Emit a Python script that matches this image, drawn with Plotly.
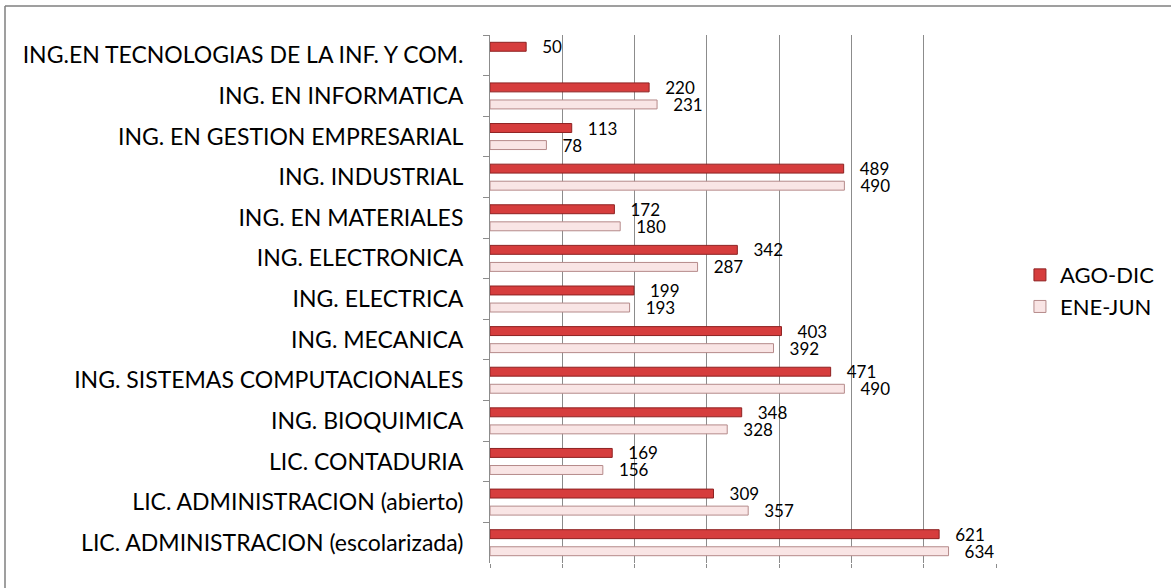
import plotly.graph_objects as go

categories = [
    "ING.EN TECNOLOGIAS DE LA INF. Y COM.",
    "ING. EN INFORMATICA",
    "ING. EN GESTION EMPRESARIAL",
    "ING. INDUSTRIAL",
    "ING. EN MATERIALES",
    "ING. ELECTRONICA",
    "ING. ELECTRICA",
    "ING. MECANICA",
    "ING. SISTEMAS COMPUTACIONALES",
    "ING. BIOQUIMICA",
    "LIC. CONTADURIA",
    "LIC. ADMINISTRACION (abierto)",
    "LIC. ADMINISTRACION (escolarizada)",
]
ago_dic = [50, 220, 113, 489, 172, 342, 199, 403, 471, 348, 169, 309, 621]
ene_jun = [None, 231, 78, 490, 180, 287, 193, 392, 490, 328, 156, 357, 634]

FONT = "Lato"
PAD = "\u00a0\u00a0\u00a0"

fig = go.Figure()
fig.add_trace(go.Bar(
    y=categories, x=ago_dic, orientation="h", name="AGO-DIC",
    marker=dict(color="#d63d3d", line=dict(color="#8e2222", width=1)),
    text=ago_dic, texttemplate=PAD + "%{x}", textposition="outside",
    constraintext="none",
    textfont=dict(family=FONT, size=17, color="#000"), cliponaxis=False,
))
fig.add_trace(go.Bar(
    y=categories, x=ene_jun, orientation="h", name="ENE-JUN",
    marker=dict(color="#f9e5e5", line=dict(color="#b58a8a", width=1)),
    text=ene_jun, texttemplate=PAD + "%{x}", textposition="outside",
    constraintext="none",
    textfont=dict(family=FONT, size=17, color="#000"), cliponaxis=False,
))

fig.update_layout(
    width=1171, height=588,
    margin=dict(l=490, r=174, t=35, b=25, autoexpand=False),
    paper_bgcolor="white", plot_bgcolor="white",
    barmode="group", bargap=0.16, bargroupgap=0.476,
    font=dict(family=FONT, size=23, color="#000"),
    legend=dict(xref="container", yref="container", x=0.871, y=0.505,
                xanchor="left", yanchor="middle",
                font=dict(family=FONT, size=22), traceorder="normal"),
    showlegend=True,
)
fig.update_xaxes(range=[0, 701], dtick=100, showgrid=True, gridcolor="#8c8c8c",
                 gridwidth=1, zeroline=False, showticklabels=False, automargin=False,
                 ticks="outside", ticklen=4, tickcolor="#8c8c8c", showline=False)
fig.update_yaxes(autorange="reversed", showline=True, linecolor="#8c8c8c", linewidth=1,
                 ticks="outside", ticklen=6, tickcolor="#8c8c8c", tickson="boundaries",
                 tickfont=dict(family=FONT, size=23), ticklabelstandoff=21,
                 automargin=False)

fig.add_shape(type="line", xref="paper", yref="paper",
              x0=-0.9566, x1=1.4, y0=1.0549, y1=1.0549,
              line=dict(color="#7f7f7f", width=1.5))
fig.add_shape(type="line", xref="paper", yref="paper",
              x0=-0.9566, x1=-0.9566, y0=1.0549, y1=-0.1,
              line=dict(color="#7f7f7f", width=1.5))

fig.write_html("out.html", config={"displayModeBar": False},
               post_script="document.body.style.margin='0';")
